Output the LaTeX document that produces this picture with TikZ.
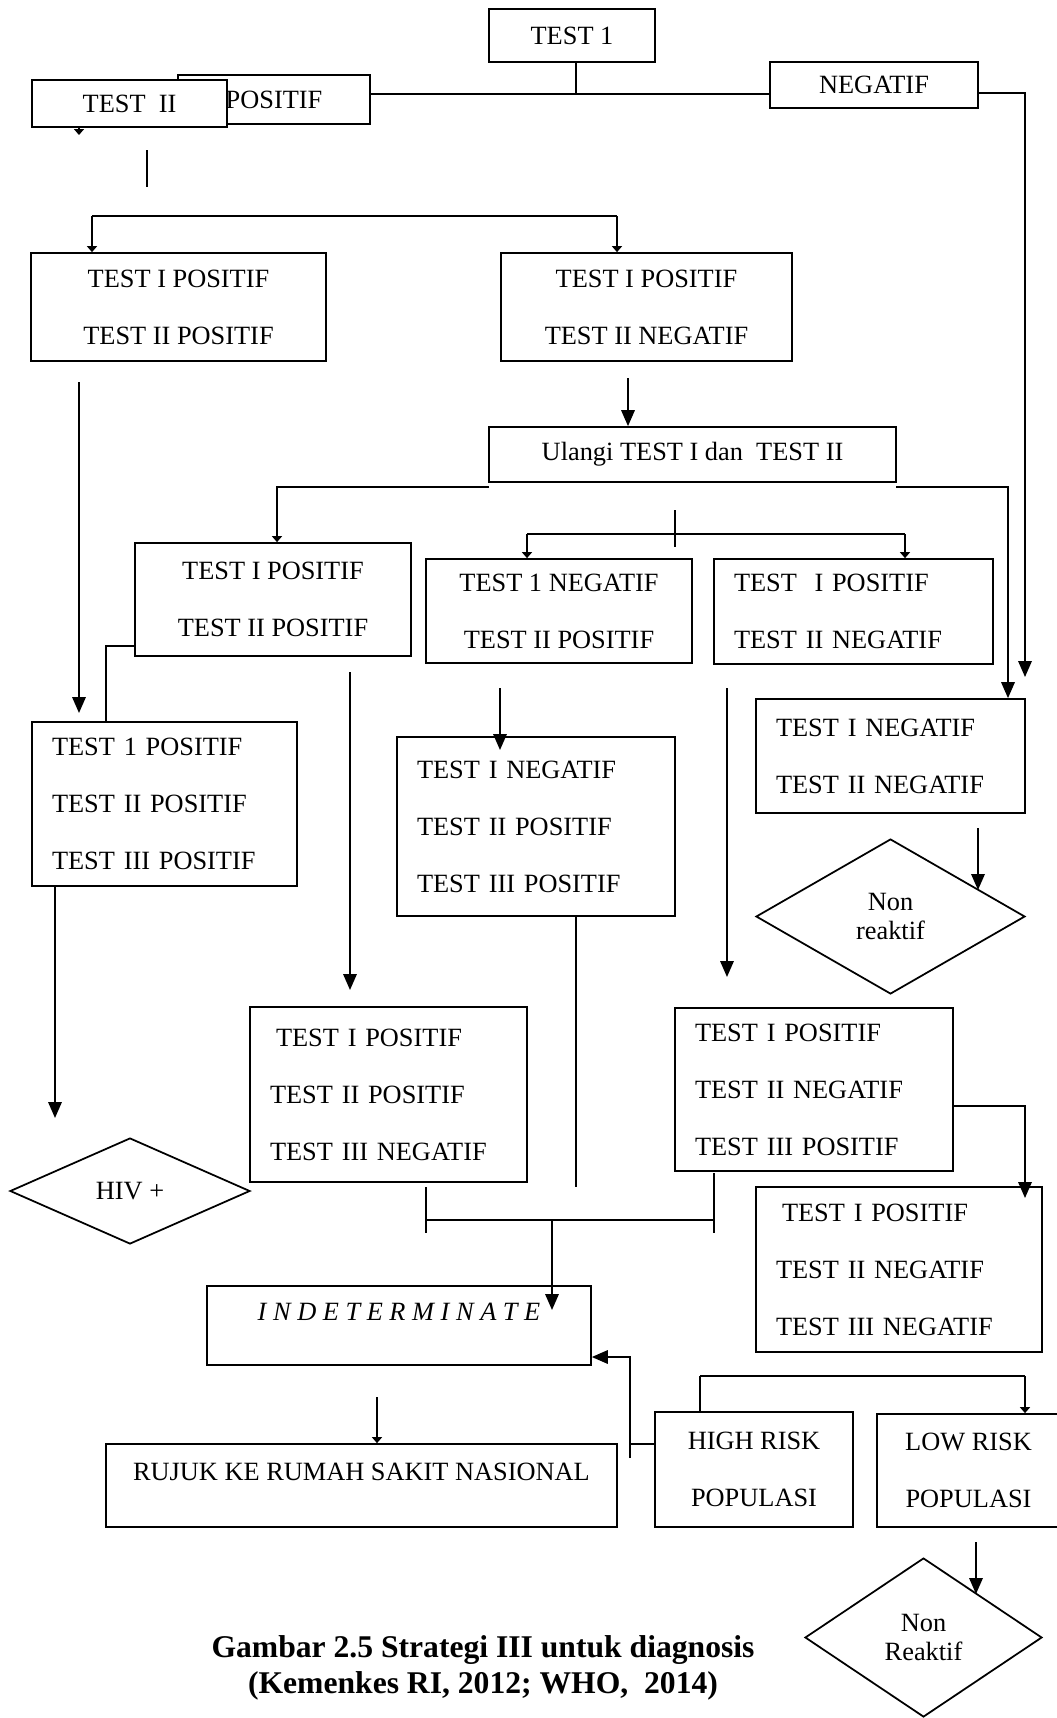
\documentclass[tikz,border=0pt]{standalone}
\usepackage{fontspec}
\setmainfont{Liberation Serif}
\usetikzlibrary{shapes, arrows.meta}
\newcommand{\blockfont}{\fontsize{15}{32.4}\selectfont}
\newcommand{\diafont}{\fontsize{15}{17}\selectfont}
\tikzstyle{block} =
        [
                rectangle,
                draw,
                line width = 1pt,
                align = center,
                inner sep = 0pt,
                font = \blockfont
        ]
\tikzstyle{leftblock} =
        [
                block,
                align = left,
                inner xsep = 0.4cm
        ]
\tikzstyle{topblock} =
        [
                block,
                text height = 0.35cm,
                text depth = 0.57cm
        ]
\tikzstyle{decision} =
        [
                diamond,
                draw,
                line width = 1pt,
                align = center,
                inner sep = 0pt,
                font = \diafont
        ]
\tikzstyle{line} =
        [
                draw,
                line width = 1pt,
                -{Triangle[length = 0.32cm, width = 0.27cm]}
        ]
\tikzstyle{shortline} =
        [
                draw,
                line width = 1pt,
                -{Triangle[length = 0.12cm, width = 0.2cm]}
        ]
\tikzstyle{plain} =
        [
                draw,
                line width = 1pt
        ]

\begin{document}
\begin{tikzpicture}[x = 0.02cm, y = -0.02cm]
	        \useasboundingbox (0,0) rectangle (1056,1718);
	        \node [block, minimum width = 3.32cm, minimum height = 1.06cm] (test1) at (572,35.5) {TEST 1};
	        \node [block, minimum width = 3.84cm, minimum height = 0.98cm] (positif) at (274,99.5) {POSITIF};
	        \node [block, fill = white, minimum width = 3.9cm, minimum height = 0.94cm] (test2) at (129.5,103.5) {TEST~~II};
	        \node [block, minimum width = 4.16cm, minimum height = 0.92cm] (negatif) at (874,85) {NEGATIF};
	        \node [block, minimum width = 5.9cm, minimum height = 2.16cm] (tptp) at (178.5,307) {TEST I POSITIF\\TEST II POSITIF};
	        \node [block, minimum width = 5.82cm, minimum height = 2.16cm] (tptn) at (646.5,307) {TEST I POSITIF\\TEST II NEGATIF};
	        \node [block, minimum width = 8.14cm, minimum height = 1.1cm] (ulangi) at (692.5,454.5) {Ulangi TEST I dan~~TEST II};
	        \node [block, minimum width = 5.52cm, minimum height = 2.26cm] (ulpp) at (273,599.5) {TEST I POSITIF\\TEST II POSITIF};
	        \node [block, minimum width = 5.32cm, minimum height = 2.08cm] (ulnp) at (559,611) {TEST 1 NEGATIF\\TEST II POSITIF};
	        \node [leftblock, text width = 4.78cm, minimum height = 2.1cm] (ulpn) at (853.5,611.5) {TEST~~I POSITIF\\TEST II NEGATIF};
	        \node [leftblock, text width = 4.5cm, minimum height = 3.28cm] (ppp) at (164.5,804) {TEST 1 POSITIF\\TEST II POSITIF\\TEST III POSITIF};
	        \node [leftblock, text width = 4.76cm, minimum height = 3.58cm] (npp) at (536,826.5) {TEST I NEGATIF\\TEST II POSITIF\\TEST III POSITIF};
	        \node [leftblock, text width = 4.58cm, minimum height = 2.28cm] (nn) at (890.5,756) {TEST I NEGATIF\\TEST II NEGATIF};
	        \node [decision, minimum width = 5.38cm, minimum height = 3.1cm] (nonr) at (890.5,916.5) {Non\\reaktif};
	        \node [leftblock, text width = 4.74cm, minimum height = 3.5cm] (ppn) at (388.5,1094.5) {\hspace{0.12cm}TEST I POSITIF\\TEST II POSITIF\\TEST III NEGATIF};
	        \node [leftblock, text width = 4.76cm, minimum height = 3.26cm] (pnp) at (814,1089.5) {TEST I POSITIF\\TEST II NEGATIF\\TEST III POSITIF};
	        \node [decision, minimum width = 4.8cm, minimum height = 2.12cm] (hiv) at (130,1191) {HIV +};
	        \node [leftblock, text width = 4.92cm, minimum height = 3.3cm] (pnn) at (899,1269.5) {\hspace{0.12cm}TEST I POSITIF\\TEST II NEGATIF\\TEST III NEGATIF};
	        \node [topblock, minimum width = 7.68cm, minimum height = 1.58cm] (indet) at (399,1325.5) {\textit{I N D E T E R M I N A T E}};
	        \node [topblock, minimum width = 10.22cm, minimum height = 1.66cm] (rujuk) at (361.5,1485.5) {RUJUK KE RUMAH SAKIT NASIONAL};
	        \node [block, minimum width = 3.96cm, minimum height = 2.3cm] (high) at (754,1469.5) {HIGH RISK\\POPULASI};
	        \node [block, minimum width = 3.66cm, minimum height = 2.26cm] (low) at (968.5,1470.5) {LOW RISK\\POPULASI};
	        \node [decision, minimum width = 4.74cm, minimum height = 3.18cm] (nonr2) at (923.5,1637.5) {Non\\Reaktif};
	        \node [align = center, font = \fontsize{18}{20.5}\selectfont\bfseries] (caption) at (483,1668) {Gambar 2.5 Strategi III untuk diagnosis\\(Kemenkes RI, 2012; WHO,~~2014)};

	        \coordinate (j1) at (576,94);
	        \coordinate (t2a) at (79,135);
	        \coordinate (v1) at (147,150);
	        \coordinate (v2) at (147,187);
	        \coordinate (s1) at (92,216);
	        \coordinate (s2) at (617,216);
	        \coordinate (nr) at (1025,677);
	        \coordinate (a1) at (79,382);
	        \coordinate (a2) at (79,713);
	        \coordinate (a3) at (628,378);
	        \coordinate (u1) at (489,487);
	        \coordinate (u2) at (277,487);
	        \coordinate (u3) at (896,487);
	        \coordinate (u4) at (1008,487);
	        \coordinate (v3) at (675,510);
	        \coordinate (v4) at (675,547);
	        \coordinate (s3) at (527,534);
	        \coordinate (s4) at (905,534);
	        \coordinate (a4) at (350,672);
	        \coordinate (a5) at (350,990);
	        \coordinate (a6) at (500,688);
	        \coordinate (a7) at (500,750);
	        \coordinate (a8) at (727,688);
	        \coordinate (a9) at (727,977);
	        \coordinate (a10) at (978,828);
	        \coordinate (a11) at (978,890);
	        \coordinate (a12) at (55,1118);
	        \coordinate (v5) at (576,1187);
	        \coordinate (k1) at (426,1187);
	        \coordinate (k2) at (426,1233);
	        \coordinate (k3) at (714,1173);
	        \coordinate (k4) at (714,1233);
	        \coordinate (k5) at (552,1220);
	        \coordinate (k6) at (552,1310);
	        \coordinate (a14) at (1025,1198);
	        \coordinate (h1) at (630,1444);
	        \coordinate (h2) at (630,1458);
	        \coordinate (r1) at (377,1397);
	        \coordinate (s5) at (700,1376);
	        \coordinate (s6) at (1025,1376);
	        \coordinate (a15) at (976,1542);
	        \coordinate (a16) at (976,1594);

	        \path [plain] (test1.south -| j1) -- (j1);
	        \path [plain] (positif.east |- j1) -- (negatif.west |- j1);
	        \path [line] ([yshift = -0.16cm]negatif.east) -| (nr);
	        \path [shortline] (test2.south -| t2a) -- (t2a);
	        \path [plain] (v1) -- (v2);
	        \path [plain] (s1) -- (s2);
	        \path [shortline] (s1) -- (s1 |- tptp.north);
	        \path [shortline] (s2) -- (s2 |- tptn.north);
	        \path [line] (a1) -- (a2);
	        \path [line] (a3) -- (a3 |- ulangi.north);
	        \path [shortline] (u1) -- (u2) -- (u2 |- ulpp.north);
	        \path [line] (u3) -- (u4) -- (u4 |- nn.north);
	        \path [plain] (v3) -- (v4);
	        \path [plain] (s3) -- (s4);
	        \path [shortline] (s3) -- (s3 |- ulnp.north);
	        \path [shortline] (s4) -- (s4 |- ulpn.north);
	        \path [plain] ([yshift = -0.93cm]ulpp.west) -| ([xshift = -1.17cm]ppp.north);
	        \path [line] (a4) -- (a5);
	        \path [line] (a6) -- (a7);
	        \path [line] (a8) -- (a9);
	        \path [line] (a10) -- (a11);
	        \path [line] (a12 |- ppp.south) -- (a12);
	        \path [plain] (v5 |- npp.south) -- (v5);
	        \path [plain] (k1) -- (k2);
	        \path [plain] (k3) -- (k4);
	        \path [plain] (k1 |- k5) -- (k3 |- k5);
	        \path [line] (k5) -- (k6);
	        \path [line] ([yshift = -0.33cm]pnp.east) -| (a14);
	        \path [plain] ([yshift = 0.51cm]high.west) -- (h1);
	        \path [line] (h2) |- ([yshift = -0.63cm]indet.east);
	        \path [shortline] (r1) -- (r1 |- rujuk.north);
	        \path [plain] (s5) -- (s6);
	        \path [plain] (s5) -- (s5 |- high.north);
	        \path [shortline] (s6) -- (s6 |- low.north);
	        \path [line] (a15) -- (a16);
\end{tikzpicture}
\end{document}
